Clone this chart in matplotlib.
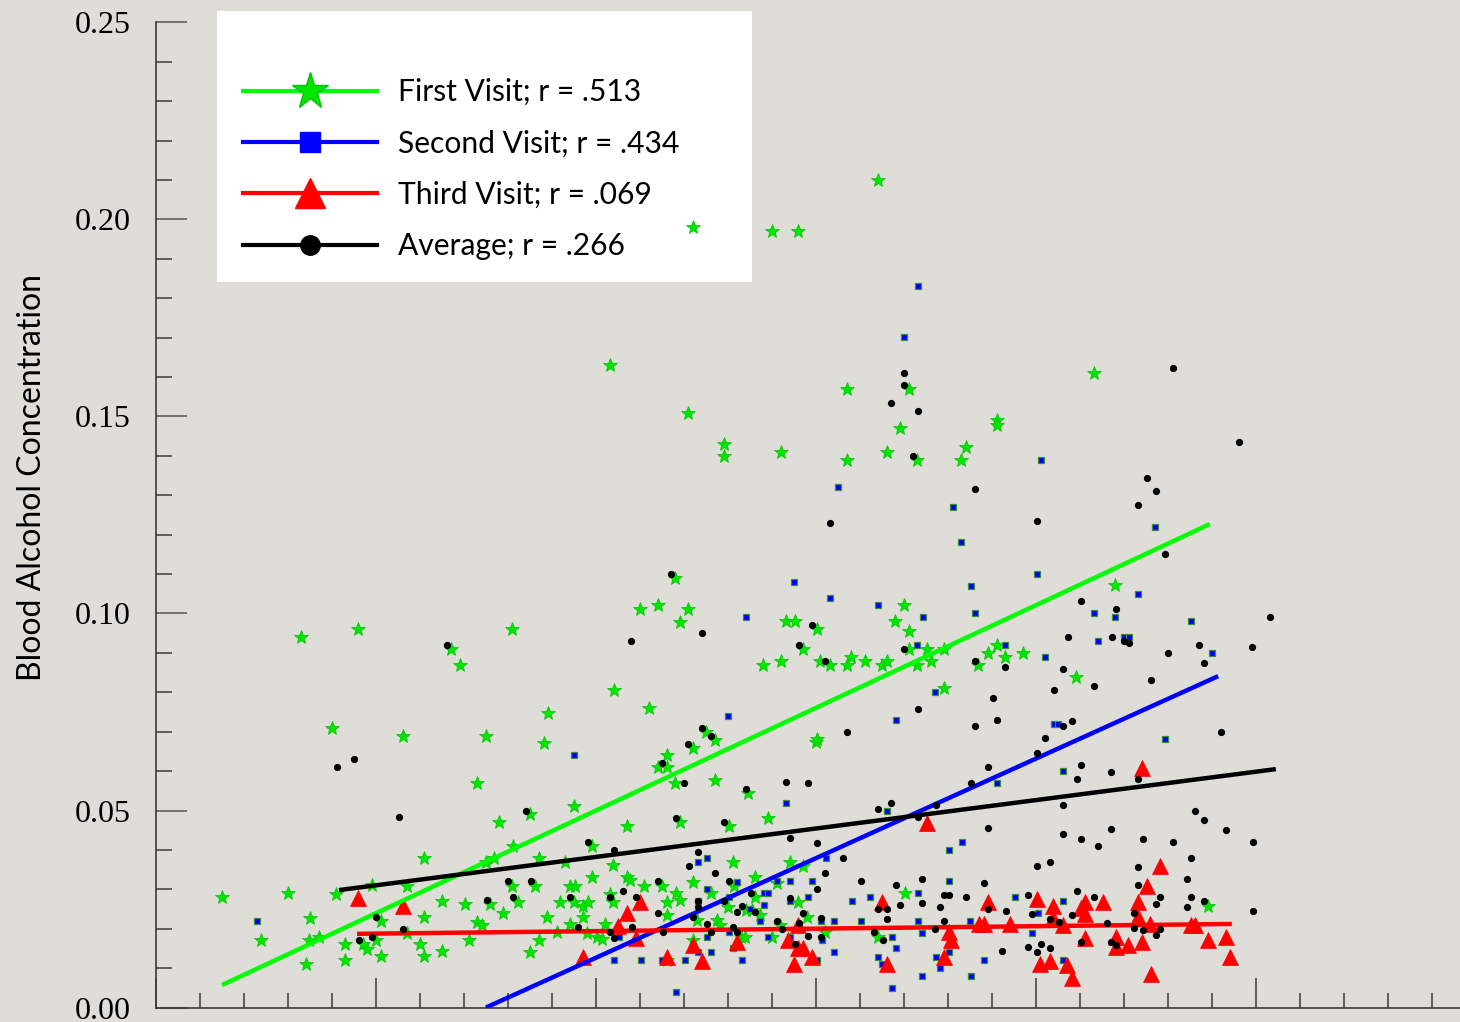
import matplotlib
matplotlib.use('Agg')
import matplotlib.pyplot as plt
from matplotlib.lines import Line2D
from matplotlib.patches import Rectangle
from matplotlib.ticker import MultipleLocator, FormatStrFormatter

# x has no labelled scale in the source, so it is kept in tick units
# First visit (green stars)
first_x = [1.50, 3.00, 2.39, 3.50, 3.48, 3.70, 3.41, 4.09, 4.30, 4.30,
           4.70, 4.80, 4.91, 5.00, 5.11, 5.11, 5.70, 5.70, 6.00, 6.09,
           6.09, 6.09, 6.50, 6.50, 5.61, 7.50, 8.82, 7.30, 7.80, 8.50,
           9.50, 8.11, 7.50, 7.68, 8.70, 9.30, 9.91, 10.39, 10.70, 9.91,
           10.70, 7.02, 7.59, 8.09, 8.61, 8.23, 7.89, 7.30, 7.41, 7.11,
           8.89, 9.41, 9.52, 9.18, 9.50, 9.70, 9.82, 9.70, 9.41, 8.70,
           8.50, 9.11, 9.80, 10.02, 10.14, 10.20, 10.39, 10.32, 10.77, 11.09,
           11.50, 11.61, 11.61, 11.82, 11.91, 12.20, 12.61, 12.30, 12.75, 12.82,
           13.11, 13.14, 13.00, 13.41, 13.30, 11.61, 12.20, 11.61, 11.41, 11.61,
           11.80, 12.20, 12.70, 12.70, 11.91, 13.02, 13.45, 15.00, 13.91, 14.41,
           14.70, 13.61, 14.11, 13.61, 14.59, 14.80, 13.55, 13.73, 14.18, 14.00,
           15.20, 16.41, 17.02, 13.39, 23.91, 10.32, 12.09, 3.30, 4.59, 8.09,
           6.70, 6.91, 11.80, 11.00, 11.41, 12.09, 11.91, 10.41, 11.20, 8.91,
           4.00, 12.50, 21.32, 15.70, 17.11, 16.91, 19.11, 19.11, 12.91, 12.91,
           14.20, 15.70, 16.61, 17.30, 18.41, 18.30, 21.80, 17.00, 16.80, 17.11,
           14.32, 14.52, 15.02, 14.70, 13.80, 14.20, 15.09, 15.32, 15.70, 15.80,
           16.11, 16.50, 16.61, 17.11, 17.52, 17.61, 17.30, 17.91, 18.68, 18.91,
           19.11, 19.30, 19.70, 17.91, 20.91, 15.02, 16.41, 12.20, 14.00, 14.59]
first_y = [0.0280, 0.0291, 0.0171, 0.0227, 0.0171, 0.0179, 0.0110, 0.0288, 0.0161, 0.0121,
           0.0161, 0.0148, 0.0311, 0.0171, 0.0220, 0.0131, 0.0308, 0.0189, 0.0161, 0.0230,
           0.0131, 0.0379, 0.0270, 0.0143, 0.0689, 0.0689, 0.0671, 0.0570, 0.0471, 0.0491,
           0.0511, 0.0410, 0.0369, 0.0379, 0.0379, 0.0369, 0.0410, 0.0362, 0.0331, 0.0331,
           0.0461, 0.0263, 0.0263, 0.0308, 0.0308, 0.0268, 0.0240, 0.0217, 0.0209, 0.0171,
           0.0230, 0.0308, 0.0308, 0.0268, 0.0268, 0.0258, 0.0268, 0.0230, 0.0212, 0.0171,
           0.0141, 0.0192, 0.0189, 0.0179, 0.0174, 0.0212, 0.0268, 0.0288, 0.0324, 0.0308,
           0.0308, 0.0268, 0.0235, 0.0291, 0.0273, 0.0319, 0.0291, 0.0222, 0.0222, 0.0209,
           0.0369, 0.0308, 0.0255, 0.0247, 0.0179, 0.0121, 0.0171, 0.0641, 0.0610, 0.0610,
           0.0570, 0.0659, 0.0577, 0.0679, 0.0471, 0.0461, 0.0544, 0.0674, 0.0481, 0.0369,
           0.0359, 0.0331, 0.0316, 0.0280, 0.0268, 0.0230, 0.0247, 0.0235, 0.0209, 0.0179,
           0.0192, 0.0179, 0.0291, 0.0179, 0.0258, 0.1631, 0.1509, 0.0940, 0.0961, 0.0961,
           0.0910, 0.0869, 0.1090, 0.1011, 0.1022, 0.1011, 0.0978, 0.0806, 0.0760, 0.0747,
           0.0709, 0.0699, 0.1610, 0.1570, 0.1570, 0.1471, 0.1491, 0.1478, 0.1430, 0.1400,
           0.1410, 0.1390, 0.1410, 0.1390, 0.1423, 0.1390, 0.1072, 0.1022, 0.0981, 0.0956,
           0.0981, 0.0981, 0.0961, 0.0910, 0.0869, 0.0879, 0.0879, 0.0869, 0.0869, 0.0890,
           0.0879, 0.0869, 0.0879, 0.0910, 0.0910, 0.0879, 0.0869, 0.0910, 0.0869, 0.0900,
           0.0920, 0.0890, 0.0900, 0.0811, 0.0839, 0.0681, 0.2100, 0.1981, 0.1971, 0.1971]

# Second visit (blue squares)
second_x = [17.32, 17.00, 20.11, 15.50, 18.11, 18.30, 22.70, 20.02, 14.50, 15.32,
            16.41, 18.52, 18.61, 17.43, 13.41, 22.32, 21.32, 21.80, 23.52, 22.00,
            22.11, 21.41, 24.00, 19.30, 20.20, 17.30, 17.70, 13.00, 16.82, 20.41,
            20.50, 22.93, 2.30, 9.50, 12.32, 12.52, 12.52, 12.32, 13.20, 13.02,
            10.52, 10.41, 11.02, 11.50, 12.02, 12.32, 12.61, 12.52, 13.02, 13.11,
            13.32, 11.82, 14.32, 16.61, 18.32, 18.02, 15.23, 14.41, 14.11, 14.91,
            18.02, 13.82, 13.91, 14.82, 14.41, 13.82, 15.82, 16.23, 17.32, 19.52,
            13.50, 13.73, 15.11, 15.41, 16.02, 17.32, 18.50, 20.05, 13.91, 14.41,
            15.14, 16.73, 17.41, 19.91, 15.41, 16.82, 16.41, 16.50, 17.73, 18.02,
            18.82, 17.82, 17.41, 18.52, 16.73, 15.02, 19.11, 20.61, 20.61, 20.61]
second_y = [0.1831, 0.1702, 0.1390, 0.1321, 0.1270, 0.1181, 0.1220, 0.1100, 0.1080, 0.1039,
            0.1022, 0.1070, 0.1001, 0.0991, 0.0991, 0.1049, 0.1001, 0.0991, 0.0981, 0.0940,
            0.0940, 0.0930, 0.0900, 0.0920, 0.0890, 0.0920, 0.0801, 0.0740, 0.0730, 0.0720,
            0.0720, 0.0681, 0.0220, 0.0641, 0.0369, 0.0379, 0.0301, 0.0270, 0.0319, 0.0280,
            0.0179, 0.0121, 0.0121, 0.0121, 0.0121, 0.0141, 0.0141, 0.0179, 0.0192, 0.0151,
            0.0121, 0.0039, 0.0519, 0.0499, 0.0420, 0.0400, 0.0379, 0.0321, 0.0321, 0.0321,
            0.0321, 0.0291, 0.0291, 0.0280, 0.0270, 0.0260, 0.0270, 0.0280, 0.0291, 0.0280,
            0.0250, 0.0220, 0.0220, 0.0220, 0.0220, 0.0220, 0.0220, 0.0240, 0.0179, 0.0179,
            0.0171, 0.0179, 0.0189, 0.0189, 0.0141, 0.0151, 0.0128, 0.0110, 0.0128, 0.0141,
            0.0121, 0.0100, 0.0080, 0.0080, 0.0049, 0.0121, 0.0570, 0.0600, 0.0270, 0.0121]

# Third visit (red triangles)
third_x = [4.59, 5.61, 9.70, 10.50, 10.70, 11.00, 10.91, 11.61, 12.20, 12.41,
           13.20, 14.36, 14.50, 14.59, 14.59, 14.70, 14.91, 16.50, 16.61, 17.52,
           17.91, 18.02, 18.07, 18.70, 18.82, 18.91, 19.41, 20.02, 20.09, 20.32,
           20.39, 20.39, 20.61, 20.70, 20.82, 21.02, 21.11, 21.11, 21.11, 21.52,
           21.82, 21.82, 22.09, 22.32, 22.32, 22.41, 22.41, 22.52, 22.59, 22.61,
           22.82, 23.52, 23.61, 23.91, 24.32, 24.41]
third_y = [0.0278, 0.0258, 0.0128, 0.0207, 0.0240, 0.0268, 0.0176, 0.0128, 0.0159, 0.0118,
           0.0166, 0.0171, 0.0110, 0.0209, 0.0151, 0.0151, 0.0128, 0.0268, 0.0110, 0.0468,
           0.0128, 0.0192, 0.0171, 0.0212, 0.0212, 0.0268, 0.0212, 0.0275, 0.0110, 0.0118,
           0.0258, 0.0227, 0.0209, 0.0108, 0.0075, 0.0253, 0.0268, 0.0237, 0.0176, 0.0268,
           0.0179, 0.0154, 0.0159, 0.0268, 0.0230, 0.0166, 0.0608, 0.0308, 0.0212, 0.0085,
           0.0359, 0.0209, 0.0209, 0.0171, 0.0179, 0.0128]

# Average (black dots)
avg_x = [17.00, 17.00, 16.70, 17.32, 17.20, 15.32, 23.11, 24.61, 22.52, 22.73,
         22.32, 20.02, 22.93, 18.61, 21.02, 21.82, 21.73, 22.00, 22.11, 20.73,
         25.32, 24.91, 23.70, 23.82, 23.00, 22.61, 21.32, 20.61, 20.41, 19.02,
         17.32, 19.11, 18.61, 15.70, 20.82, 20.61, 20.20, 24.20, 12.41, 14.91,
         14.61, 15.20, 17.00, 18.61, 19.30, 12.61, 12.41, 6.61, 11.70, 10.80,
         12.09, 4.11, 4.50, 5.52, 5.00, 5.61, 4.91, 4.61, 8.41, 9.82,
         10.41, 11.50, 12.00, 13.41, 11.82, 12.91, 12.32, 12.11, 12.70, 8.00,
         8.52, 7.52, 8.11, 9.41, 10.32, 10.61, 10.91, 11.41, 13.02, 12.32,
         12.32, 12.91, 13.32, 13.20, 11.41, 12.20, 12.52, 9.59, 10.82, 10.32,
         10.41, 11.52, 12.61, 13.11, 13.20, 14.32, 14.82, 14.41, 15.02, 15.61,
         15.20, 15.02, 16.41, 16.70, 17.32, 17.73, 18.52, 18.91, 20.02, 18.91,
         16.02, 16.82, 17.41, 18.82, 17.91, 18.02, 18.41, 19.82, 20.02, 16.91,
         17.41, 17.82, 16.41, 16.61, 16.61, 17.91, 18.91, 19.32, 19.91, 13.52,
         13.61, 14.41, 14.70, 15.11, 14.11, 14.61, 14.23, 17.70, 16.32, 14.82,
         15.11, 16.52, 14.52, 19.23, 19.82, 20.02, 20.11, 21.02, 20.93, 21.70,
         22.32, 20.61, 20.61, 21.02, 21.41, 21.70, 22.43, 23.11, 23.61, 23.82,
         24.32, 24.93, 20.32, 22.32, 23.52, 22.32, 23.43, 20.93, 21.32, 22.82,
         23.52, 22.73, 23.43, 23.82, 24.93, 20.82, 20.32, 20.52, 21.61, 22.23,
         22.23, 22.43, 22.82, 22.73, 21.02, 21.70, 21.82, 20.32]
avg_y = [0.1610, 0.1580, 0.1534, 0.1514, 0.1400, 0.1230, 0.1623, 0.1435, 0.1344, 0.1311,
         0.1275, 0.1235, 0.1151, 0.1316, 0.1032, 0.1011, 0.0940, 0.0930, 0.0925, 0.0940,
         0.0991, 0.0915, 0.0920, 0.0874, 0.0900, 0.0831, 0.0816, 0.0859, 0.0806, 0.0786,
         0.0758, 0.0730, 0.0714, 0.0699, 0.0727, 0.0714, 0.0684, 0.0699, 0.0951, 0.0971,
         0.0920, 0.0879, 0.0910, 0.0879, 0.0864, 0.0689, 0.0709, 0.0920, 0.1100, 0.0930,
         0.0669, 0.0610, 0.0631, 0.0484, 0.0230, 0.0199, 0.0179, 0.0171, 0.0499, 0.0420,
         0.0400, 0.0621, 0.0570, 0.0555, 0.0481, 0.0471, 0.0395, 0.0359, 0.0341, 0.0321,
         0.0321, 0.0273, 0.0280, 0.0280, 0.0280, 0.0296, 0.0280, 0.0321, 0.0321, 0.0270,
         0.0255, 0.0270, 0.0258, 0.0242, 0.0240, 0.0230, 0.0212, 0.0204, 0.0204, 0.0192,
         0.0176, 0.0192, 0.0192, 0.0204, 0.0192, 0.0572, 0.0570, 0.0430, 0.0418, 0.0379,
         0.0341, 0.0301, 0.0504, 0.0519, 0.0484, 0.0514, 0.0570, 0.0610, 0.0646, 0.0456,
         0.0321, 0.0311, 0.0326, 0.0316, 0.0286, 0.0286, 0.0280, 0.0286, 0.0359, 0.0260,
         0.0265, 0.0255, 0.0250, 0.0250, 0.0225, 0.0220, 0.0250, 0.0245, 0.0237, 0.0291,
         0.0242, 0.0278, 0.0240, 0.0227, 0.0220, 0.0214, 0.0199, 0.0199, 0.0192, 0.0181,
         0.0179, 0.0171, 0.0161, 0.0143, 0.0154, 0.0141, 0.0161, 0.0615, 0.0580, 0.0598,
         0.0580, 0.0514, 0.0440, 0.0428, 0.0410, 0.0453, 0.0428, 0.0420, 0.0499, 0.0476,
         0.0451, 0.0420, 0.0369, 0.0357, 0.0379, 0.0311, 0.0326, 0.0296, 0.0280, 0.0280,
         0.0280, 0.0263, 0.0255, 0.0270, 0.0245, 0.0235, 0.0225, 0.0217, 0.0214, 0.0240,
         0.0202, 0.0197, 0.0199, 0.0184, 0.0166, 0.0166, 0.0159, 0.0151]

# fitted lines, as drawn in the source (start / end)
first_fit_x, first_fit_y = [1.50, 23.95], [0.0057, 0.1227]
second_fit_x, second_fit_y = [7.50, 24.14], [0.0, 0.0841]
third_fit_x, third_fit_y = [4.57, 24.45], [0.0187, 0.0212]
avg_fit_x, avg_fit_y = [4.16, 25.45], [0.0298, 0.0605]

labels = ['First Visit; r = .513', 'Second Visit; r = .434',
          'Third Visit; r = .069', 'Average; r = .266']

bg = '#dfddd8'
green, blue, red = '#00ff00', '#0000ff', '#ff0000'

fig = plt.figure(figsize=(14.6, 10.22), dpi=100, facecolor=bg)
ax = fig.add_axes([156/1460, 14.5/1022, 1304/1460, 985/1022])
ax.set_facecolor(bg)

# white box behind the legend (sits under the markers, as in the source)
box = Rectangle((217/1460, 1 - 282/1022), 535/1460, 271/1022, transform=fig.transFigure,
                facecolor='white', edgecolor='none', zorder=1, clip_on=False)
ax.add_patch(box)

ax.plot(first_x, first_y, ls='none', marker='*', ms=10.5, mfc='#00e600', mec='#00c400', mew=0.5, zorder=2)
ax.plot(second_x, second_y, ls='none', marker='s', ms=4.3, mfc=blue, mec='#3a8f3a', mew=0.9, zorder=2)
ax.plot(third_x, third_y, ls='none', marker='^', ms=11.5, mfc=red, mec=red, mew=0.5, zorder=3)

ax.plot(first_fit_x, first_fit_y, color=green, lw=3.2, zorder=4, solid_capstyle='butt')
ax.plot(second_fit_x, second_fit_y, color=blue, lw=3.2, zorder=4, solid_capstyle='butt')
ax.plot(third_fit_x, third_fit_y, color=red, lw=3.2, zorder=4, solid_capstyle='butt')
ax.plot(avg_fit_x, avg_fit_y, color='black', lw=3.2, zorder=4, solid_capstyle='butt')

ax.plot(avg_x, avg_y, ls='none', marker='o', ms=4.2, color='black', zorder=5)

ax.set_xlim(0, 1304/44)
ax.set_ylim(0, 0.25)
for s in ['top', 'right']:
    ax.spines[s].set_visible(False)
for s in ['left', 'bottom']:
    ax.spines[s].set_color('#3a3a3a')
    ax.spines[s].set_linewidth(1.2)

ax.xaxis.set_major_locator(MultipleLocator(5))
ax.xaxis.set_minor_locator(MultipleLocator(1))
ax.yaxis.set_major_locator(MultipleLocator(0.05))
ax.yaxis.set_minor_locator(MultipleLocator(0.01))
ax.yaxis.set_major_formatter(FormatStrFormatter('%.2f'))

ax.tick_params(axis='x', which='major', direction='in', length=21.5, width=1.1, color='#3a3a3a', labelbottom=False)
ax.tick_params(axis='x', which='minor', direction='in', length=10.8, width=1.1, color='#3a3a3a')
ax.tick_params(axis='y', which='major', direction='in', length=22, width=1.1, color='#555555',
               labelsize=23, pad=18, labelfontfamily='Liberation Serif')
ax.tick_params(axis='y', which='minor', direction='in', length=11.5, width=1.1, color='#3a3a3a')

fig.text(32/1460, 1 - 477/1022, 'Blood Alcohol Concentration', rotation=90,
         ha='center', va='center', family='Lato', size=23)

handles = [
    Line2D([], [], color=green, lw=3, marker='*', ms=28, mfc='#00e600', mec='#00c400'),
    Line2D([], [], color=blue, lw=3, marker='s', ms=14, mfc=blue, mec=blue),
    Line2D([], [], color=red, lw=3, marker='^', ms=21, mfc=red, mec=red),
    Line2D([], [], color='black', lw=3, marker='o', ms=14, mfc='black', mec='black'),
]
fig.legend(handles, labels, loc='upper left', bbox_to_anchor=(243/1460, 1 - 78/1022),
           frameon=False, prop={'family': 'Lato', 'size': 21.6}, handlelength=4.45,
           handletextpad=0.7, labelspacing=0.78, borderpad=0, borderaxespad=0)

plt.savefig('out.png', dpi=100, facecolor=bg)
